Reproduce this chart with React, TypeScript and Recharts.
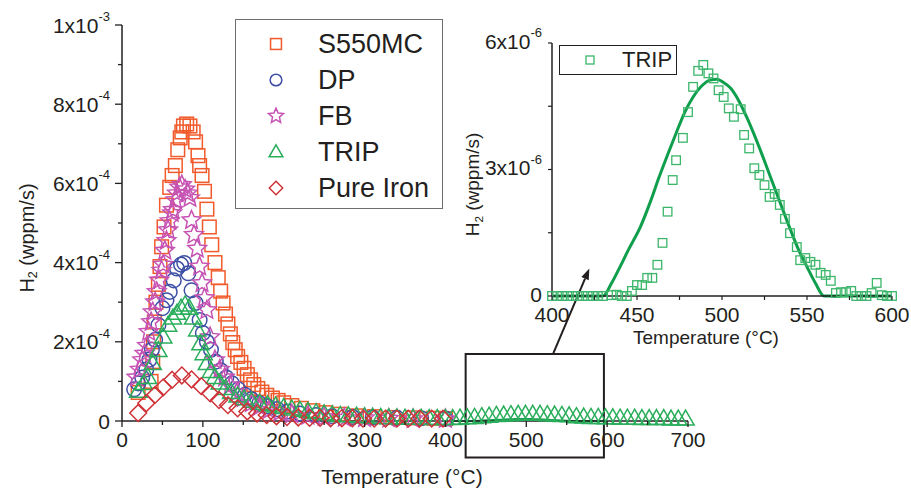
import {
  ComposedChart,
  Scatter,
  Line,
  XAxis,
  YAxis,
  Legend,
  ReferenceArea,
  ReferenceLine
} from 'recharts'

const FONT = '"Liberation Sans", Arial, Helvetica, sans-serif'
const INK = '#231f20'

// main plot: temperature (°C) vs H2 desorption rate, in units of 1e-4 wppm/s
const s550T = [20, 36, 38, 39, 40, 42, 45, 47, 49, 52, 55, 59, 62, 66, 69, 72, 74, 76, 80, 84, 88, 91, 94, 96, 99, 102, 105, 108, 111, 115, 119, 122, 125, 128, 131, 134, 137, 140, 143, 147, 151, 155, 159, 163, 168, 173, 179, 186, 193, 200, 210, 222, 236, 252, 270, 290, 312, 335, 360, 385, 400]
const s550V = [0.72, 1.0, 1.5, 2.0, 2.5, 3.0, 3.45, 3.9, 4.4, 4.9, 5.45, 5.9, 6.2, 6.45, 6.85, 7.15, 7.3, 7.45, 7.5, 7.45, 7.3, 7.05, 6.7, 6.45, 6.2, 5.8, 5.35, 4.9, 4.45, 4.0, 3.62, 3.28, 2.98, 2.7, 2.45, 2.2, 1.98, 1.8, 1.63, 1.48, 1.33, 1.17, 1.04, 0.92, 0.82, 0.73, 0.65, 0.58, 0.52, 0.46, 0.39, 0.32, 0.26, 0.21, 0.17, 0.13, 0.11, 0.09, 0.08, 0.07, 0.06]

const dpT = [15, 20, 25, 30, 34, 37, 41, 45, 50, 55, 59, 64, 68, 73, 77, 82, 86, 91, 96, 100, 105, 110, 116, 122, 129, 136, 144, 152, 160, 170, 180, 192, 205, 220, 240, 260, 285, 310, 340, 370, 400]
const dpV = [0.8, 0.95, 1.1, 1.3, 1.55, 1.8, 2.05, 2.42, 2.85, 3.05, 3.26, 3.55, 3.85, 3.95, 3.99, 3.73, 3.3, 2.98, 2.55, 2.22, 2.0, 1.8, 1.5, 1.28, 1.1, 0.95, 0.8, 0.66, 0.55, 0.45, 0.37, 0.3, 0.24, 0.19, 0.15, 0.12, 0.1, 0.09, 0.08, 0.07, 0.06]

const fbT = [18, 22, 25, 28, 31, 33, 36, 38, 41, 43, 46, 49, 51, 53, 55, 57, 59, 62, 63, 66, 68, 71, 74, 78, 81, 84, 86, 89, 93, 96, 99, 102, 105, 109, 115, 121, 127, 134, 142, 150, 160, 170, 182, 195, 210, 230, 250, 275, 300, 330, 360, 400]
const fbV = [1.1, 1.3, 1.54, 1.7, 1.9, 2.25, 2.5, 2.75, 3.0, 3.26, 3.55, 3.8, 3.95, 4.3, 4.55, 4.82, 5.05, 5.25, 5.33, 5.58, 5.75, 5.9, 5.96, 5.85, 5.75, 5.63, 5.07, 4.7, 4.35, 3.9, 3.48, 3.1, 2.8, 2.12, 1.54, 1.3, 1.1, 0.9, 0.72, 0.58, 0.45, 0.36, 0.28, 0.22, 0.17, 0.13, 0.1, 0.08, 0.07, 0.06, 0.05, 0.05]

const tripT = [20, 27, 32, 38, 45, 51, 57, 63, 68, 73, 78, 83, 88, 93, 97, 101, 105, 110, 115, 121, 128, 135, 143, 151, 160, 170, 180, 190, 200, 210, 220, 230, 240, 250, 260, 270, 280, 290, 300, 310, 320, 330, 340, 350, 360, 370, 380, 390, 400, 409, 418, 427, 436, 445, 454, 463, 472, 481, 490, 499, 508, 517, 526, 535, 544, 553, 562, 571, 580, 589, 598, 607, 616, 625, 634, 643, 652, 661, 670, 679, 688, 697]
const tripV = [0.75, 0.95, 1.1, 1.45, 1.78, 2.12, 2.42, 2.6, 2.72, 2.85, 2.93, 2.85, 2.6, 2.3, 1.95, 1.7, 1.45, 1.25, 1.1, 0.96, 0.82, 0.72, 0.63, 0.56, 0.5, 0.45, 0.41, 0.38, 0.34, 0.3, 0.27, 0.24, 0.21, 0.18, 0.16, 0.14, 0.13, 0.12, 0.11, 0.1, 0.09, 0.08, 0.08, 0.07, 0.07, 0.07, 0.06, 0.06, 0.06, 0.06, 0.07, 0.08, 0.09, 0.11, 0.12, 0.14, 0.15, 0.16, 0.17, 0.17, 0.17, 0.17, 0.16, 0.15, 0.14, 0.13, 0.11, 0.1, 0.09, 0.09, 0.08, 0.08, 0.07, 0.07, 0.07, 0.06, 0.06, 0.06, 0.06, 0.05, 0.05, 0.05]

const ironT = [20, 30, 41, 51, 62, 74, 86, 98, 109, 120, 131, 143, 155, 167, 179, 191, 204, 218, 232, 245, 258, 272, 285, 298, 312, 326, 340, 354, 368, 383, 397]
const ironV = [0.2, 0.45, 0.66, 0.85, 1.04, 1.15, 1.05, 0.88, 0.7, 0.53, 0.4, 0.32, 0.24, 0.19, 0.15, 0.12, 0.1, 0.09, 0.08, 0.08, 0.07, 0.07, 0.07, 0.06, 0.06, 0.06, 0.06, 0.06, 0.06, 0.06, 0.06]

const xTicks = [0, 50, 100, 150, 200, 250, 300, 350, 400, 450, 500, 550, 600, 650, 700]
const yTicks = [0, 1, 2, 3, 4, 5, 6, 7, 8, 9, 10]
const yMajor = [0, 2, 4, 6, 8, 10]
const yBase = ['0', '2x10', '4x10', '6x10', '8x10', '1x10']
const yExp = ['', '-4', '-4', '-4', '-4', '-3']

// inset: TRIP between 400 and 600 °C, in units of 1e-6 wppm/s
const insetT = [400, 403, 406, 409, 412, 415, 418, 421, 424, 427, 430, 435, 438, 441, 444, 447, 450, 453, 456, 459, 462, 465, 468, 471, 473, 477, 480, 483, 486, 489, 492, 495, 498, 501, 504, 507, 511, 513, 516, 519, 522, 525, 528, 531, 534, 537, 540, 544, 546, 549, 552, 555, 558, 561, 564, 567, 570, 573, 576, 579, 582, 585, 588, 591, 594, 597, 600]
const insetV = [0, 0, 0, 0, 0, 0, 0, 0, 0, 0, 0, 0.02, 0.03, 0, 0, 0.12, 0.26, 0.26, 0.43, 0.43, 0.74, 1.26, 2.0, 2.75, 3.22, 3.75, 4.36, 4.96, 5.34, 5.48, 5.28, 5.16, 4.88, 4.72, 4.45, 4.25, 4.43, 3.82, 3.5, 3.03, 2.87, 2.63, 2.35, 2.42, 2.16, 1.83, 1.49, 1.16, 0.85, 0.9, 0.81, 0.74, 0.55, 0.5, 0.36, 0.07, 0.09, 0.09, 0.12, 0, 0, 0, 0.07, 0.31, 0.02, 0, 0]

const fitT = [400, 430, 435, 440, 445, 452, 458, 463, 468, 473, 478, 483, 488, 493, 497, 501, 505, 510, 515, 520, 525, 530, 535, 540, 545, 550, 555, 560, 600]
const fitV = [0, 0, 0.3, 0.69, 1.1, 1.64, 2.25, 2.82, 3.35, 3.86, 4.35, 4.72, 4.98, 5.12, 5.14, 5.06, 4.93, 4.62, 4.2, 3.72, 3.2, 2.66, 2.13, 1.6, 1.1, 0.69, 0.3, 0, 0]

const insetXTicks = [400, 425, 450, 475, 500, 525, 550, 575, 600]
const insetYTicks = [0, 1.5, 3, 4.5, 6]
const insetYMajor = [0, 3, 6]
const insetYBase = ['0', '3x10', '6x10']
const insetYExp = ['', '-6', '-6']

const pts = (t: number[], v: number[]) => t.map((T, i) => ({ T, v: v[i] }))

const series = [
  { name: 'S550MC', data: pts(s550T, s550V), color: '#f15a2b', mark: 'square' },
  { name: 'DP', data: pts(dpT, dpV), color: '#3d4fa5', mark: 'circle' },
  { name: 'FB', data: pts(fbT, fbV), color: '#c653b3', mark: 'star' },
  { name: 'TRIP', data: pts(tripT, tripV), color: '#2bae5c', mark: 'triangle' },
  { name: 'Pure Iron', data: pts(ironT, ironV), color: '#cf3339', mark: 'diamond' }
]

const insetData = pts(insetT, insetV)
const fitInset = pts(fitT, fitV)
// same fit, converted from 1e-6 to 1e-4 units for the main axes
const fitMain = fitT.map((T, i) => ({ T, v: fitV[i] / 100 }))

function drawMark(mark: string, cx: number, cy: number, color: string, k = 1) {
  const common = { fill: 'none', stroke: color, strokeWidth: 1.5 }
  if (mark === 'square') {
    const h = 6.8 * k
    return <rect x={cx - h} y={cy - h} width={2 * h} height={2 * h} {...common} />
  }
  if (mark === 'circle') return <circle cx={cx} cy={cy} r={7.3 * k} {...common} />
  if (mark === 'star') {
    const p = Array.from({ length: 10 }, (_, i) => {
      const a = -Math.PI / 2 + (i * Math.PI) / 5
      const r = (i % 2 === 0 ? 9.8 : 4.5) * k
      return `${cx + r * Math.cos(a)},${cy + r * Math.sin(a)}`
    }).join(' ')
    return <polygon points={p} {...common} />
  }
  if (mark === 'triangle') {
    const w = 8.6 * k
    return <polygon points={`${cx},${cy - 9 * k} ${cx + w},${cy + 6 * k} ${cx - w},${cy + 6 * k}`} {...common} />
  }
  const d = 8.4 * k
  return <polygon points={`${cx},${cy - d} ${cx + d},${cy} ${cx},${cy + d} ${cx - d},${cy}`} {...common} />
}

function MainYTick({ x, y, payload }: any) {
  const i = yMajor.indexOf(payload.value)
  return (
    <g>
      <line x1={x} x2={x - (i >= 0 ? 7 : 4)} y1={y} y2={y} stroke={INK} strokeWidth={1.3} />
      {i >= 0 && (
        <text x={x - 12} y={y} textAnchor="end" dominantBaseline="central" fontSize={21} fill={INK} fontFamily={FONT}>
          {yBase[i]}
          {yExp[i] && <tspan dy={-9} fontSize={13}>{yExp[i]}</tspan>}
        </text>
      )}
    </g>
  )
}

function MainXTick({ x, y, payload }: any) {
  const major = payload.value % 100 === 0
  return (
    <g>
      <line x1={x} x2={x} y1={y} y2={y + (major ? 6 : 4)} stroke={INK} strokeWidth={1.3} />
      {major && (
        <text x={x} y={y + 18} textAnchor="middle" dominantBaseline="central" fontSize={21} fill={INK} fontFamily={FONT}>
          {payload.value}
        </text>
      )}
    </g>
  )
}

function InsetYTick({ x, y, payload }: any) {
  const i = insetYMajor.indexOf(payload.value)
  return (
    <g>
      <line x1={x} x2={x - 4} y1={y} y2={y} stroke={INK} strokeWidth={1.2} />
      {i >= 0 && (
        <text x={x - 10} y={y - 2} textAnchor="end" dominantBaseline="central" fontSize={21} fill={INK} fontFamily={FONT}>
          {insetYBase[i]}
          {insetYExp[i] && <tspan dy={-9} fontSize={13}>{insetYExp[i]}</tspan>}
        </text>
      )}
    </g>
  )
}

function InsetXTick({ x, y, payload }: any) {
  const major = payload.value % 50 === 0
  return (
    <g>
      <line x1={x} x2={x} y1={y} y2={y + 4} stroke={INK} strokeWidth={1.2} />
      {major && (
        <text x={x} y={y + 18} textAnchor="middle" dominantBaseline="central" fontSize={21} fill={INK} fontFamily={FONT}>
          {payload.value}
        </text>
      )}
    </g>
  )
}

function h2Title(cx: number, cy: number, size: number) {
  return (
    <text transform={`translate(${cx},${cy}) rotate(-90)`} textAnchor="middle" dominantBaseline="central" fontSize={size} fill={INK} fontFamily={FONT}>
      H<tspan dy={6} fontSize={size * 0.62}>2</tspan>
      <tspan dy={-6}> (wppm/s)</tspan>
    </text>
  )
}

const vb = (p: any) => p.viewBox || { x: 0, y: 0, width: 0, height: 0 }

function MainYTitle(p: any) {
  const b = vb(p)
  return h2Title(b.x + 27, b.y + b.height / 2 + 15, 20)
}

function InsetYTitle(p: any) {
  const b = vb(p)
  return h2Title(b.x + 12, b.y + b.height / 2 + 15, 19)
}

function MainXTitle(p: any) {
  const b = vb(p)
  return (
    <text x={b.x + b.width / 2 - 3} y={b.y + 55} textAnchor="middle" dominantBaseline="central" fontSize={21} fill={INK} fontFamily={FONT}>
      Temperature (°C)
    </text>
  )
}

function InsetXTitle(p: any) {
  const b = vb(p)
  return (
    <text x={b.x + b.width / 2 - 16} y={b.y + 41} textAnchor="middle" dominantBaseline="central" fontSize={19} fill={INK} fontFamily={FONT}>
      Temperature (°C)
    </text>
  )
}

function MainLegend() {
  return (
    <div style={{ width: 208, height: 190, border: '1px solid #6d6e70', boxSizing: 'border-box', position: 'relative' }}>
      {series.map((s, i) => (
        <div key={s.name} style={{ position: 'absolute', left: 0, top: 6 + i * 36, height: 36, display: 'flex', alignItems: 'center' }}>
          <svg width={80} height={36}>{drawMark(s.mark, 40, 18, s.color, 0.8)}</svg>
          <span style={{ fontFamily: FONT, fontSize: 27, color: INK, marginLeft: 2, lineHeight: '36px' }}>{s.name}</span>
        </div>
      ))}
    </div>
  )
}

function InsetLegend() {
  return (
    <div style={{ width: 118, height: 30, border: '1.5px solid #231f20', boxSizing: 'border-box', display: 'flex', alignItems: 'center' }}>
      <svg width={62} height={28}>
        <rect x={26} y={10} width={8} height={8} fill="none" stroke="#3cb66a" strokeWidth={1.3} />
      </svg>
      <span style={{ fontFamily: FONT, fontSize: 22, color: INK, lineHeight: '28px' }}>TRIP</span>
    </div>
  )
}

function Arrow(p: any) {
  const { x1, y1, x2, y2 } = p
  const a = Math.atan2(y2 - y1, x2 - x1)
  const L = 11
  const W = 4
  const bx = x2 - L * Math.cos(a)
  const by = y2 - L * Math.sin(a)
  const head = `${x2},${y2} ${bx + W * Math.sin(a)},${by - W * Math.cos(a)} ${bx - W * Math.sin(a)},${by + W * Math.cos(a)}`
  return (
    <g>
      <line x1={x1} y1={y1} x2={bx} y2={by} stroke={INK} strokeWidth={2} />
      <polygon points={head} fill={INK} />
    </g>
  )
}

const axisStyle = { stroke: INK, strokeWidth: 1.5 }

export default function App() {
  return (
    <div style={{ position: 'absolute', left: 0, top: 0, width: 911, height: 494, background: '#fff' }}>
      <ComposedChart width={911} height={494} margin={{ top: 25, right: 223, bottom: 0, left: 0 }}>
        <XAxis
          type="number"
          dataKey="T"
          domain={[0, 700]}
          ticks={xTicks}
          interval={0}
          height={73}
          tickSize={0}
          tickMargin={0}
          tickLine={false}
          axisLine={axisStyle}
          tick={<MainXTick />}
          label={MainXTitle}
        />
        <YAxis
          type="number"
          dataKey="v"
          domain={[0, 10]}
          ticks={yTicks}
          interval={0}
          width={122}
          tickSize={0}
          tickMargin={0}
          tickLine={false}
          axisLine={axisStyle}
          tick={<MainYTick />}
          label={MainYTitle}
        />
        {series.map((s) => (
          <Scatter
            key={s.name}
            name={s.name}
            data={s.data}
            isAnimationActive={false}
            shape={(p: any) => drawMark(s.mark, p.cx, p.cy, s.color)}
          />
        ))}
        <Line data={fitMain} dataKey="v" type="monotone" stroke="#12a150" strokeWidth={2} dot={false} isAnimationActive={false} />
        <ReferenceArea x1={425} x2={596} y1={-0.92} y2={1.69} ifOverflow="visible" fill="none" fillOpacity={0} stroke={INK} strokeWidth={2} />
        <ReferenceLine segment={[{ x: 533, y: 1.69 }, { x: 578, y: 3.85 }]} ifOverflow="visible" shape={Arrow} />
        <Legend
          content={MainLegend}
          layout="vertical"
          align="center"
          verticalAlign="middle"
          wrapperStyle={{ left: 235, top: 19, width: 208, height: 190 }}
        />
      </ComposedChart>

      <div style={{ position: 'absolute', left: 460, top: 0 }}>
        <ComposedChart width={451} height={350} margin={{ top: 43, right: 19, bottom: 0, left: 0 }}>
          <XAxis
            type="number"
            dataKey="T"
            domain={[400, 600]}
            ticks={insetXTicks}
            interval={0}
            height={54}
            tickSize={0}
            tickMargin={0}
            tickLine={false}
            axisLine={axisStyle}
            tick={<InsetXTick />}
            label={InsetXTitle}
          />
          <YAxis
            type="number"
            dataKey="v"
            domain={[0, 6]}
            ticks={insetYTicks}
            interval={0}
            width={92}
            tickSize={0}
            tickMargin={0}
            tickLine={false}
            axisLine={axisStyle}
            tick={<InsetYTick />}
            label={InsetYTitle}
          />
          <Scatter
            name="TRIP"
            data={insetData}
            isAnimationActive={false}
            shape={(p: any) => <rect x={p.cx - 4.3} y={p.cy - 4.3} width={8.6} height={8.6} fill="none" stroke="#3cb66a" strokeWidth={1.3} />}
          />
          <Line data={fitInset} dataKey="v" type="monotone" stroke="#0f9f4c" strokeWidth={3} dot={false} isAnimationActive={false} />
          <Legend
            content={InsetLegend}
            layout="vertical"
            align="center"
            verticalAlign="middle"
            wrapperStyle={{ left: 99, top: 45, width: 118, height: 30 }}
          />
        </ComposedChart>
      </div>
    </div>
  )
}
